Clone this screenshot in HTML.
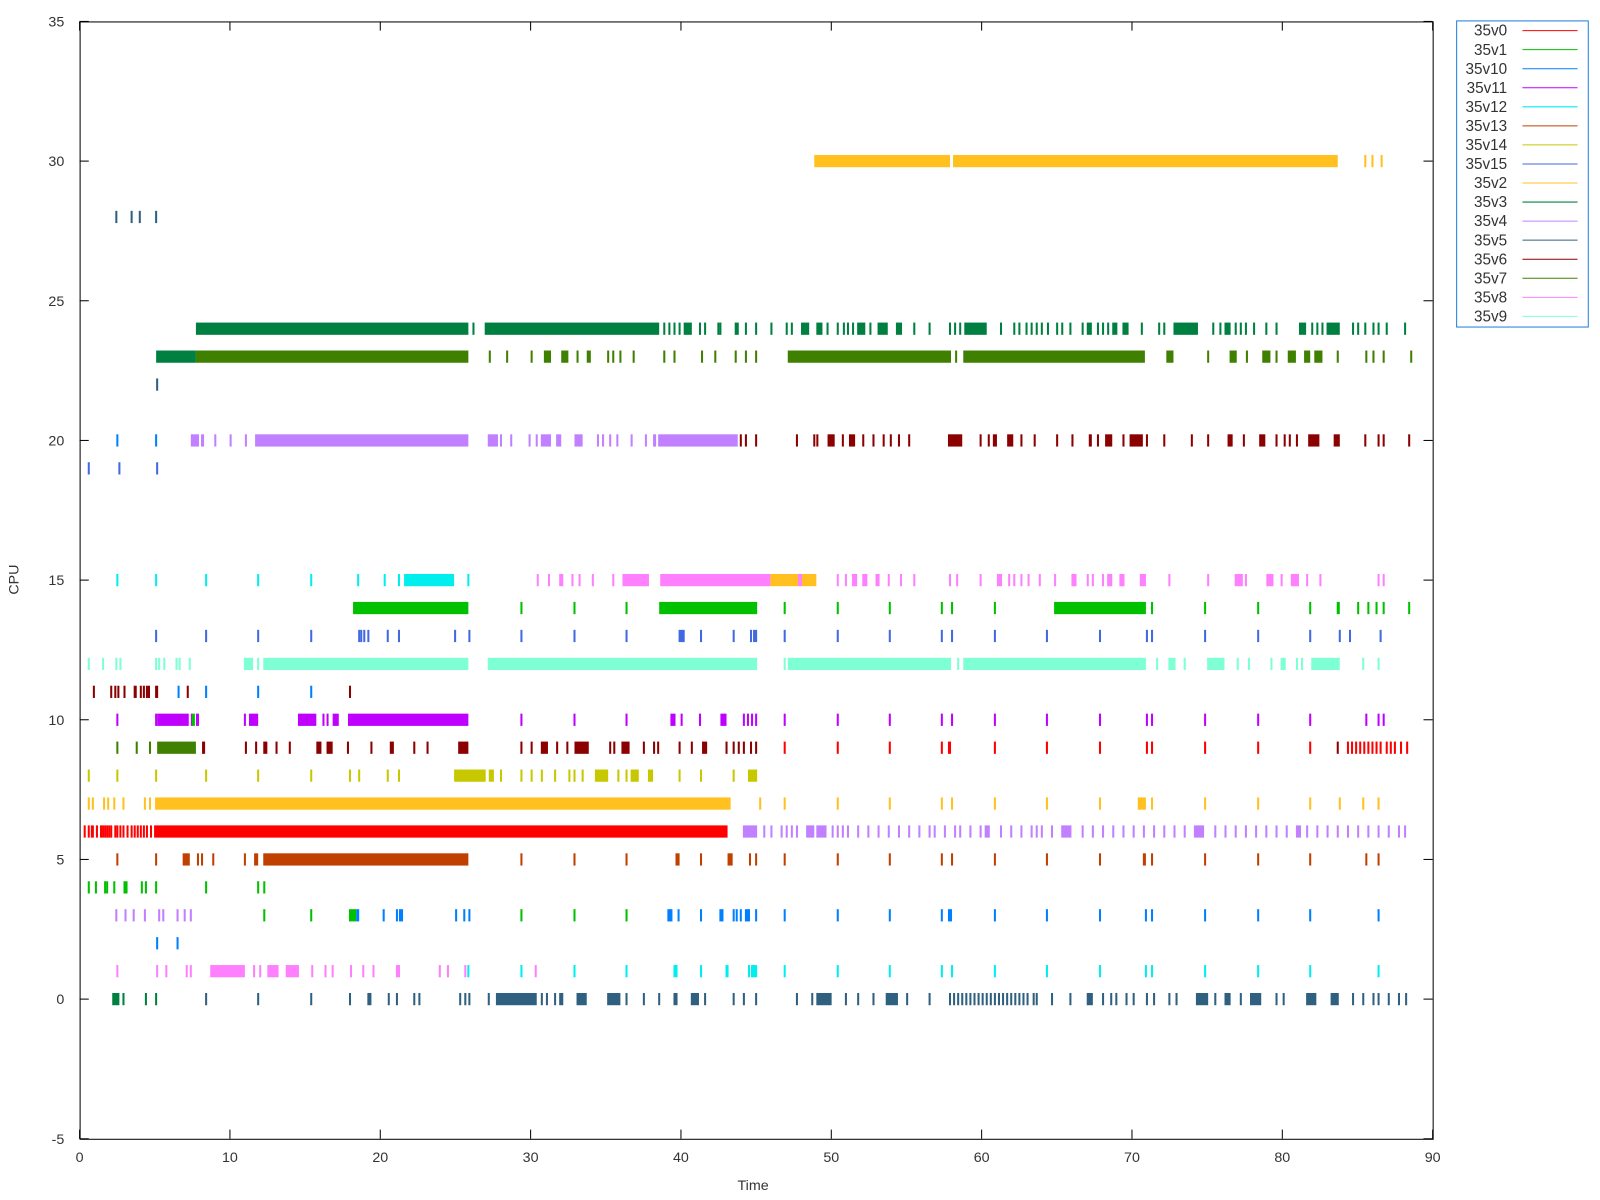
<!DOCTYPE html>
<html><head><meta charset="utf-8"><style>
html,body{margin:0;padding:0;background:#fff;width:1600px;height:1200px;overflow:hidden;}
svg{display:block;font-family:"Liberation Sans","DejaVu Sans",sans-serif;}
</style></head><body>
<svg id="s" width="1600" height="1200" viewBox="0 0 1600 1200" xmlns="http://www.w3.org/2000/svg">
<rect x="0" y="0" width="1600" height="1200" fill="#fff"/>
<g transform="scale(1.020408)">
<g id="bars"></g>
<rect x="78.5" y="21.5" width="1326" height="1095" fill="none" stroke="#000" stroke-width="1"/>
<g id="axes" font-size="14" fill="#333"></g>
<text x="738" y="1166" font-size="14" fill="#333" text-anchor="middle">Time</text>
<text x="18" y="568" font-size="14" fill="#333" text-anchor="middle" transform="rotate(-90 18 568)">CPU</text>
<rect x="1427.5" y="20.5" width="129" height="300" fill="none" stroke="#1f7fe0" stroke-width="1"/>
<g id="leg" font-size="15" fill="#333"></g>
</g>
</svg>
<script>
var C={v0:"#ff0000",v1:"#00c000",v10:"#0080ff",v11:"#c000ff",v12:"#00eeee",v13:"#c04000",v14:"#c8c800",v15:"#4169e1",v2:"#ffc020",v3:"#008040",v4:"#c080ff",v5:"#306080",v6:"#8b0000",v7:"#408000",v8:"#ff80ff",v9:"#7fffd4"};
var rows=[
[30,"v2 798-931 934-1311 1337 1344 1353"],
[28,"v5 113 128 136 152"],
[24,"v3 192-459 463-465 475-646 650 655 660 665 670-678 685 690 703 705 720-724 730 740 755 770-772 775 785-793 800-806 810 820 826 830 835 840-848 852 860-870 878-884 895 910 930 935 940 945-967 980 993 998 1005 1010 1015 1020 1026 1035 1040 1048 1060 1065-1070 1075 1080 1085 1090-1095 1100-1106 1118 1135 1140 1150-1174 1188 1195 1200-1206 1210 1215 1220 1228 1240 1250 1273-1280 1285 1290 1295 1300-1313 1325 1330 1337 1345 1350 1358 1376"],
[23,"v3 153-192 v7 192-459 479 496 520 533-540 550-557 565 575-579 595 600 607 620 650 660 687 700 720 730 740 772-932 936 944-1122 1143-1150 1183 1205-1212 1221 1237-1245 1250 1262-1270 1278-1284 1288-1296 1310 1338 1345 1355 1382"],
[22,"v5 153"],
[20,"v10 114 152 v4 187-195 197-200 210 225 240 250-459 478-488 490 500 518 525 530-540 545-550 563-571 585 590 597 604 618 632 640-643 645-723 v6 725 730 740 780 797 800 811-818 825 832-838 845 855 865 872 880 890 929-943 960 968 973-977 987-993 1000 1013 1035 1050 1067-1070 1075 1083-1090 1100 1107-1120 1123 1140 1167 1183 1203-1208 1218 1234-1240 1250 1258 1263 1270 1282-1293 1307-1313 1337 1350 1355 1380"],
[19,"v15 86 116 153"],
[15,"v12 114 152 201 252 304 350 376 390 396-445 458 v8 526 537 548-552 560 567 580 600 610-636 647-755 v2 755-782 v8 782-786 v2 786-800 v8 820 828 835-840 845-850 858-862 870 882 895 930 937 960 977-982 988 993 1000 1007 1018 1033 1050-1055 1065 1070 1080 1085-1090 1097-1102 1117-1123 1145 1183 1210-1218 1220 1241-1248 1255 1265-1273 1280 1293 1350 1355"],
[14,"v1 346-459 510 562 613 646-742 768 820 871 922 932 974 1033-1123 1128 1180 1232 1283 1310-1313 1330 1340 1348 1355 1380"],
[13,"v15 152 201 252 304 351 353 356 360 379 390 445 459 510 562 613 665-671 686 718 735 738-742 768 820 871 922 932 974 1025 1077 1123 1128 1180 1232 1283 1312 1322 1352"],
[12,"v9 86 100 113 117 152 155 160 172 175 185 239-248 252 258-459 478-742 768 772-932 938 944-1123 1133 1145-1152 1160 1183-1200 1212 1223 1245 1255-1260 1270 1275 1285-1313 1335 1350"],
[11,"v6 91 108 112 115 121 131-134 137 140 143 145 152-155 v10 174 v6 183 v10 201 252 304 v6 342"],
[10,"v11 114 152 154-185 187 v1 188-191 v11 192-195 239 244-253 292-310 316 320 326-332 341-459 510 562 613 657-662 667 685 706-712 728 732 736 740 768 820 871 922 932 974 1025 1077 1123 1128 1180 1232 1283 1338 1350 1355"],
[9,"v7 114 133 146 154-192 v6 198-201 240 250 258-262 270 283 310-315 320-326 340 363 382-386 405 418 449-459 510 520 530-537 545 555 563-577 597 601 609-617 630 640 644 665 677 688-693 711 718 723 728 735 740 v0 768 820 871 922 929-932 974 1025 1077 1123 1128 1180 1232 1283 v6 1310 v0 1320 1324 1328 1332 1336 1340 1344 1348 1352 1358 1362 1366 1372 1378"],
[8,"v14 86 114 152 201 252 304 342 351 379 390 445-476 479-484 490 510 520 530 543 557 562 570 583-596 605 613 618-626 635-640 665 686 718 733-742"],
[7,"v2 86 90 101 105 111 120 141 146 152-716 744 768 820 871 922 932 974 1025 1077 1115-1123 1128 1180 1232 1283 1312 1335 1350"],
[6,"v0 82 86 89-92 94 98 100 102 104 106 108-110 112 114 117 120 124 128 131 134 137 140 143 147 151-713 v4 728-742 748 755 765 770 775 780 790-798 800-810 815 820 825 830 840 850 860 870 880 890 900 910 915 925 935 940 950 960 965-970 980 990 1000 1010 1015 1020 1030 1040-1050 1060 1070 1080 1090 1100 1110 1120 1130 1140 1150 1160 1170-1180 1190 1200 1210 1220 1230 1240 1250 1260 1270-1275 1280 1290 1300 1310 1320 1330 1340 1350 1360 1370 1376"],
[5,"v13 114 152 179-186 193 197 208 239 249-253 258-459 510 562 613 662-666 686 713-718 734 740 768 820 871 922 932 974 1025 1077 1120-1123 1128 1180 1232 1283 1338 1350"],
[4,"v1 86 93 102 104 111 121 123 138 142 152 201 252 258"],
[3,"v4 113 122 130 141 155 159 173 180 186 v1 258 304 342-349 v10 349-352 375 388 391-395 446 454 459 v1 510 562 613 v10 654-659 664 686 705-709 718 721-723 725 730-735 740 768 820 871 922 929-933 974 1025 1077 1122 1128 1180 1232 1283 1350"],
[2,"v10 153 173"],
[1,"v8 114 153 162 182 186 206-240 248 254 262-273 280-293 305 318 325 343 355 365 388-392 430 438 455 v12 458 510 v8 524 v12 562 613 660-664 686 711-714 733 736-742 768 820 871 922 932 974 1025 1077 1122 1128 1180 1232 1283 1350"],
[0,"v3 110-117 120 142 152 v5 201 252 304 342 360-364 380 388 405 410 450 455 459 478 486-526 530 535 543 548-552 565-575 595-608 613 630 645 660-664 677-685 690 718 728 740 780 795 800-815 828 840 855 868-880 888 910 930 934 938 942 946 950 954 958 962 966 970 974 978 982 986 990 994 998 1002 1006 1012 1015 1030 1048 1065-1071 1080 1088 1093 1103 1110 1123 1130 1145 1152 1172-1184 1190 1200-1206 1215 1225-1236 1250 1257 1280-1290 1304-1312 1325 1335 1345 1350 1360 1370 1377"]
];
var g=document.getElementById("bars"),h="";
rows.forEach(function(r){
 var y=21+(35-r[0])*27.375,col="#000";
 r[1].split(/\s+/).forEach(function(t){
  if(t[0]=="v"){col=C[t];return;}
  var a,b;
  if(t.indexOf("-")>0){var p=t.split("-");a=+p[0];b=+p[1];}else{a=+t;b=a+2;}
  h+='<rect x="'+a+'" y="'+(y-6)+'" width="'+Math.max(b-a,1.5)+'" height="12" fill="'+col+'"/>';
 });
});
g.innerHTML=h;
var ax="";
for(var v=-5;v<=35;v+=5){var y=21+(35-v)*27.375;
 ax+='<line x1="78" y1="'+y+'" x2="87" y2="'+y+'" stroke="#000"/><line x1="1395" y1="'+y+'" x2="1404" y2="'+y+'" stroke="#000"/>';
 ax+='<text x="63" y="'+(y+5)+'" text-anchor="end">'+v+'</text>';}
for(var v=0;v<=90;v+=10){var x=78+v*1326/90;
 ax+='<line x1="'+x+'" y1="1116" x2="'+x+'" y2="1107" stroke="#000"/><line x1="'+x+'" y1="21" x2="'+x+'" y2="30" stroke="#000"/>';
 ax+='<text x="'+x+'" y="1139" text-anchor="middle">'+v+'</text>';}
document.getElementById("axes").innerHTML=ax;
var names=["v0","v1","v10","v11","v12","v13","v14","v15","v2","v3","v4","v5","v6","v7","v8","v9"],lg="";
names.forEach(function(n,i){var y=30+i*18.67;
 lg+='<text x="1477" y="'+(y+5)+'" text-anchor="end">35'+n+'</text><line x1="1492" y1="'+y+'" x2="1546" y2="'+y+'" stroke="'+C[n]+'" stroke-width="1"/>';});
document.getElementById("leg").innerHTML=lg;
</script>
</body></html>
